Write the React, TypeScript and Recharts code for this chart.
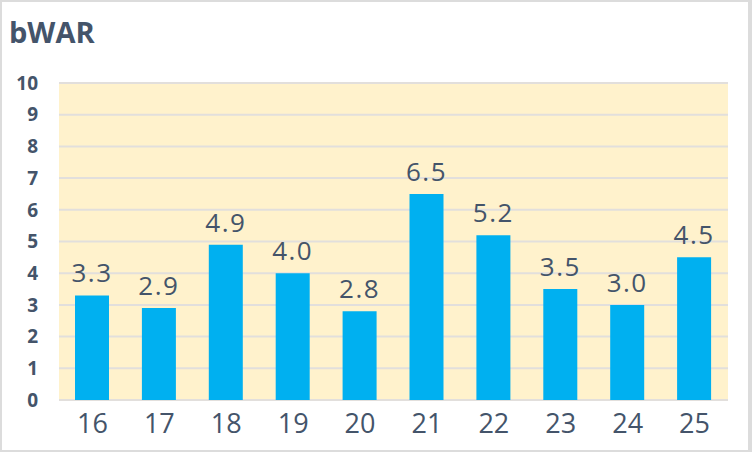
import { Bar, BarChart, CartesianGrid, LabelList, XAxis, YAxis } from "recharts";

const seasons = ["16", "17", "18", "19", "20", "21", "22", "23", "24", "25"];
const bwar = [3.3, 2.9, 4.9, 4.0, 2.8, 6.5, 5.2, 3.5, 3.0, 4.5];
const yTicks = [0, 1, 2, 3, 4, 5, 6, 7, 8, 9, 10];

const ink = "#44546a";
const font = "'Open Sans', 'Noto Sans', sans-serif";

export default function App() {
  const rows = seasons.map((season, i) => ({ season, value: bwar[i] }));

  return (
    <div
      style={{
        position: "fixed",
        left: 0,
        top: 0,
        width: 752,
        height: 452,
        background: "#fff",
        fontFamily: font,
      }}
    >
      <div
        style={{
          position: "absolute",
          left: 9,
          top: 12,
          fontSize: 29,
          fontWeight: 700,
          color: ink,
          lineHeight: "40px",
        }}
      >
        bWAR
      </div>
      <BarChart
        width={752}
        height={452}
        data={rows}
        margin={{ top: 83, right: 24, left: 0, bottom: 0 }}
        style={{ position: "absolute", left: 0, top: 0 }}
      >
        <CartesianGrid
          vertical={false}
          fill="#fff2cc"
          stroke="#e2dfdc"
          strokeWidth={2}
        />
        <XAxis
          dataKey="season"
          axisLine={false}
          tickLine={false}
          tickSize={0}
          tickMargin={14}
          height={52}
          tick={{ fill: ink, fontSize: 27, fontFamily: font }}
        />
        <YAxis
          domain={[0, 10]}
          ticks={yTicks}
          interval={0}
          axisLine={false}
          tickLine={false}
          tickSize={0}
          tickMargin={21}
          width={59}
          tick={{ fill: ink, fontSize: 19, fontWeight: 700, fontFamily: font }}
        />
        <Bar dataKey="value" fill="#00b0f0" barSize={34} isAnimationActive={false}>
          <LabelList
            dataKey="value"
            position="top"
            offset={13}
            formatter={(v: unknown) => Number(v).toFixed(1)}
            style={{ fill: ink, fontSize: 26, fontFamily: font, letterSpacing: 1.5 }}
          />
        </Bar>
      </BarChart>
      <div
        style={{
          position: "absolute",
          inset: 0,
          border: "2px solid #dcdcdc",
          borderRightWidth: 4,
          pointerEvents: "none",
        }}
      />
    </div>
  );
}
